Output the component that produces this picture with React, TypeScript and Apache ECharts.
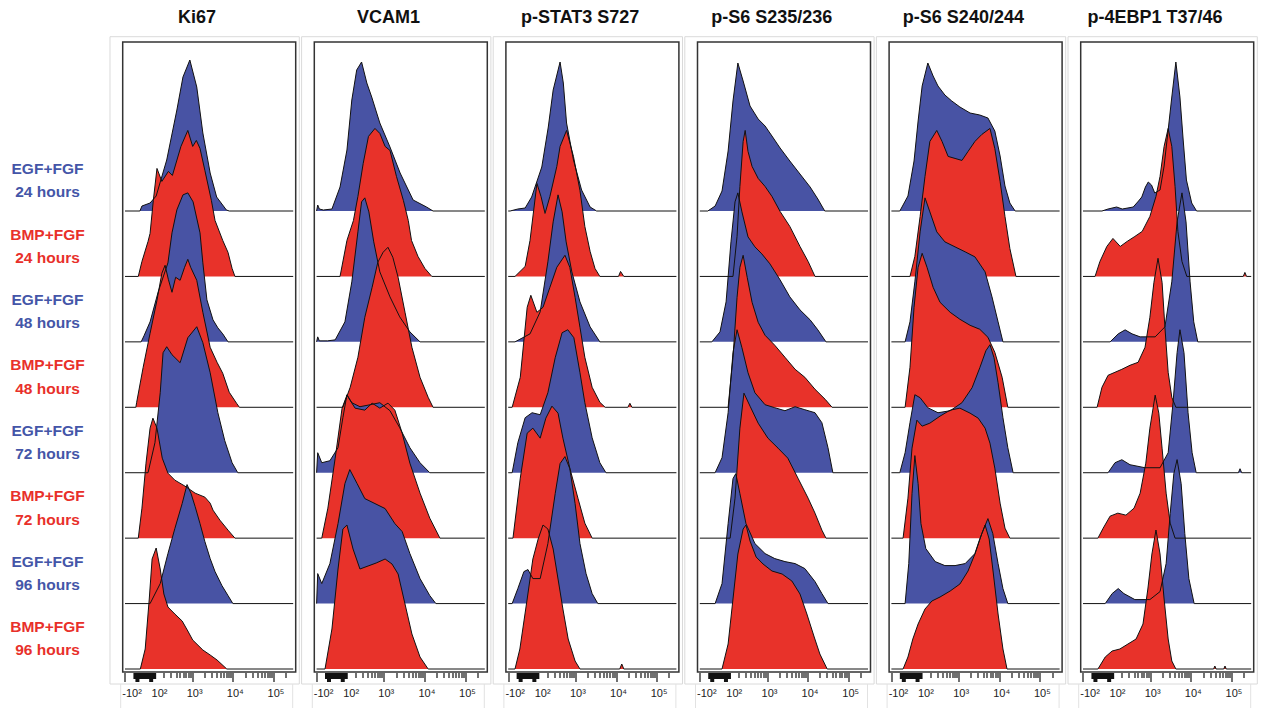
import React, { useEffect, useRef } from "react";
import * as echarts from "echarts";

// ---------- categories / labels ----------
const MARKERS = ["Ki67", "VCAM1", "p-STAT3 S727", "p-S6 S235/236", "p-S6 S240/244", "p-4EBP1 T37/46"];
const ROW_TREATMENTS = ["EGF+FGF", "BMP+FGF", "EGF+FGF", "BMP+FGF", "EGF+FGF", "BMP+FGF", "EGF+FGF", "BMP+FGF"];
const ROW_TIMES = ["24 hours", "24 hours", "48 hours", "48 hours", "72 hours", "72 hours", "96 hours", "96 hours"];
const TICK_LABELS = ["-10\u00B2", "10\u00B2", "10\u00B3", "10\u2074", "10\u2075"];
const TICK_LABEL_POS = [1.456, 2.133, 3, 4, 5];
const MAJOR_TICKS = [1.34, 3, 4, 5];

// ---------- histogram data: [log10 position, count] ----------
const KI67_ROWS = [
  [[1.7,0],[1.75,5],[1.95,8],[2.1,15],[2.36,51],[2.61,101],[2.76,134],[2.85,143],[2.93,151],[3.1,124],[3.25,78],[3.43,38],[3.59,14],[3.83,1],[3.9,0]],
  [[1.66,0],[1.75,15],[1.9,35],[1.95,43],[2.03,76],[2.12,108],[2.24,95],[2.4,105],[2.5,101],[2.71,130],[2.88,146],[3.0,130],[3.09,136],[3.18,128],[3.3,106],[3.46,76],[3.55,56],[3.74,36],[3.87,24],[3.97,8],[4.04,0]],
  [[1.73,0],[1.8,6],[1.95,20],[2.15,50],[2.39,79],[2.49,109],[2.61,132],[2.76,147],[2.88,149],[3.01,140],[3.18,109],[3.25,79],[3.35,42],[3.5,22],[3.62,14],[3.74,8],[3.87,0]],
  [[1.6,0],[1.62,5],[1.78,40],[1.95,74],[2.12,107],[2.24,134],[2.32,142],[2.4,128],[2.49,115],[2.58,130],[2.69,127],[2.8,140],[2.88,148],[2.95,140],[3.1,127],[3.25,95],[3.43,60],[3.6,45],[3.74,34],[3.9,15],[4.08,4],[4.15,0]],
  [[1.9,0],[2.07,30],[2.2,80],[2.27,120],[2.36,126],[2.49,118],[2.69,110],[2.88,135],[3.1,146],[3.25,130],[3.43,100],[3.62,60],[3.79,32],[3.97,10],[4.11,0]],
  [[1.66,0],[1.75,30],[1.85,75],[1.95,110],[2.02,120],[2.12,110],[2.25,80],[2.39,65],[2.56,58],[2.81,52],[3.06,45],[3.3,41],[3.43,35],[3.5,28],[3.67,18],[3.87,8],[4.04,0]],
  [[1.95,0],[2.2,20],[2.39,50],[2.56,75],[2.74,100],[2.86,119],[2.96,110],[3.06,97],[3.18,80],[3.3,62],[3.43,45],[3.55,32],[3.72,18],[3.87,8],[3.99,0]],
  [[1.71,0],[1.83,20],[1.93,70],[2.0,110],[2.1,121],[2.2,100],[2.29,75],[2.39,62],[2.56,55],[2.74,48],[2.88,38],[3.0,29],[3.25,19],[3.43,14],[3.6,9],[3.84,0]],
];

const VCAM1_ROWS = [
  [[1.34,0],[1.36,6],[1.4,2],[1.5,1],[1.71,2],[1.91,24],[2.08,61],[2.2,111],[2.32,141],[2.44,149],[2.57,128],[2.69,114],[2.89,88],[3.14,64],[3.39,38],[3.71,11],[4.04,4],[4.2,0]],
  [[1.91,0],[2.08,36],[2.24,56],[2.35,80],[2.48,113],[2.61,140],[2.77,148],[2.89,143],[3.02,130],[3.14,126],[3.3,100],[3.47,76],[3.59,56],[3.67,36],[3.83,20],[4.0,8],[4.17,0]],
  [[1.34,0],[1.36,5],[1.4,1],[1.6,1],[1.79,2],[2.03,20],[2.2,60],[2.35,110],[2.44,140],[2.52,144],[2.62,130],[2.74,100],[2.89,70],[3.14,45],[3.38,25],[3.63,10],[3.88,0]],
  [[1.98,0],[2.16,20],[2.35,50],[2.52,90],[2.7,120],[2.84,145],[2.97,155],[3.09,160],[3.21,150],[3.34,130],[3.51,95],[3.68,60],[3.88,30],[4.08,10],[4.2,0]],
  [[1.34,0],[1.36,20],[1.46,10],[1.66,12],[1.86,25],[1.98,55],[2.08,78],[2.2,70],[2.4,66],[2.65,68],[2.89,70],[3.14,62],[3.38,45],[3.63,25],[3.88,10],[4.12,0]],
  [[1.46,0],[1.61,30],[1.79,80],[1.96,130],[2.08,143],[2.28,130],[2.52,128],[2.7,135],[2.89,130],[3.09,135],[3.26,128],[3.44,105],[3.63,75],[3.88,45],[4.12,20],[4.37,0]],
  [[1.34,0],[1.36,30],[1.46,20],[1.66,40],[1.86,80],[2.03,120],[2.15,134],[2.33,120],[2.52,105],[2.77,100],[3.02,95],[3.26,80],[3.44,72],[3.63,50],[3.88,25],[4.12,8],[4.27,0]],
  [[1.54,0],[1.71,40],[1.86,100],[1.98,140],[2.08,144],[2.23,120],[2.4,100],[2.6,103],[2.8,106],[3.02,110],[3.19,105],[3.34,95],[3.51,65],[3.68,35],[3.88,12],[4.08,0]],
];

const PSTAT3_ROWS = [
  [[1.38,0],[1.57,2],[1.75,3],[1.91,14],[2.16,44],[2.32,84],[2.44,121],[2.61,149],[2.69,128],[2.77,88],[2.94,51],[3.14,21],[3.35,4],[3.51,0]],
  [[1.5,0],[1.75,10],[1.87,36],[2.04,93],[2.14,80],[2.24,63],[2.36,80],[2.53,110],[2.61,130],[2.77,146],[2.94,120],[3.1,86],[3.22,50],[3.35,25],[3.47,8],[3.59,0],[4.05,0],[4.1,5],[4.18,0]],
  [[1.5,0],[1.87,8],[2.12,30],[2.31,80],[2.44,120],[2.56,147],[2.66,130],[2.76,100],[2.9,70],[3.1,40],[3.35,15],[3.59,0]],
  [[1.43,0],[1.63,30],[1.8,100],[1.89,112],[2.04,95],[2.19,100],[2.36,120],[2.53,140],[2.73,152],[2.85,140],[2.98,110],[3.1,80],[3.22,50],[3.4,20],[3.59,5],[3.72,0],[4.28,0],[4.33,4],[4.38,0]],
  [[1.43,0],[1.57,30],[1.75,55],[1.92,60],[2.12,58],[2.31,80],[2.49,115],[2.66,140],[2.8,143],[2.95,135],[3.1,100],[3.22,70],[3.4,35],[3.59,10],[3.74,0]],
  [[1.45,0],[1.63,60],[1.8,105],[1.94,110],[2.12,100],[2.26,120],[2.41,132],[2.56,125],[2.68,100],[2.85,70],[3.05,40],[3.22,15],[3.4,0]],
  [[1.43,0],[1.57,15],[1.72,32],[1.82,34],[1.94,25],[2.12,25],[2.31,60],[2.49,110],[2.61,140],[2.73,147],[2.85,135],[2.98,100],[3.1,60],[3.25,30],[3.4,10],[3.54,0]],
  [[1.5,0],[1.62,20],[1.8,70],[1.94,110],[2.07,130],[2.19,144],[2.31,140],[2.44,120],[2.56,90],[2.68,60],[2.81,30],[2.98,8],[3.1,0],[4.08,0],[4.13,5],[4.18,0]],
];

const PS6A_ROWS = [
  [[1.53,0],[1.71,5],[1.88,20],[2.03,60],[2.15,110],[2.27,148],[2.4,130],[2.57,105],[2.77,92],[2.94,85],[3.11,75],[3.31,63],[3.55,50],[3.8,37],[4.05,24],[4.24,12],[4.41,0]],
  [[2.15,0],[2.25,40],[2.32,90],[2.4,135],[2.45,146],[2.52,125],[2.62,110],[2.77,98],[2.94,90],[3.11,80],[3.31,65],[3.55,50],[3.8,30],[4.0,15],[4.17,0]],
  [[1.63,0],[1.83,10],[1.98,40],[2.1,100],[2.2,140],[2.27,149],[2.37,130],[2.52,105],[2.69,95],[2.86,88],[3.06,78],[3.31,62],[3.55,45],[3.8,32],[4.05,22],[4.24,12],[4.44,0]],
  [[2.03,0],[2.15,50],[2.25,110],[2.32,140],[2.4,152],[2.5,130],[2.62,105],[2.77,85],[2.94,72],[3.18,62],[3.43,50],[3.68,38],[3.92,30],[4.17,18],[4.42,8],[4.59,0]],
  [[1.71,0],[1.88,15],[2.03,60],[2.15,120],[2.25,143],[2.37,125],[2.52,100],[2.69,80],[2.94,68],[3.18,65],[3.43,62],[3.68,66],[3.92,63],[4.17,60],[4.34,50],[4.49,25],[4.61,0]],
  [[2.08,0],[2.2,40],[2.32,110],[2.42,145],[2.57,132],[2.77,115],[3.01,100],[3.26,90],[3.5,80],[3.75,60],[4.0,40],[4.17,25],[4.34,8],[4.44,0]],
  [[1.71,0],[1.88,20],[2.03,80],[2.15,125],[2.22,130],[2.32,110],[2.47,80],[2.69,60],[2.94,50],[3.18,45],[3.43,42],[3.68,40],[3.92,35],[4.17,22],[4.34,10],[4.49,0]],
  [[1.88,0],[2.03,25],[2.15,70],[2.27,115],[2.4,140],[2.47,144],[2.57,128],[2.72,112],[2.89,105],[3.11,98],[3.36,95],[3.6,88],[3.8,75],[3.97,55],[4.15,32],[4.29,15],[4.47,0]],
];

const PS6B_ROWS = [
  [[1.54,0],[1.74,15],[1.89,50],[1.99,90],[2.09,125],[2.23,148],[2.36,135],[2.48,125],[2.65,116],[2.82,110],[3.02,104],[3.27,98],[3.51,96],[3.71,93],[3.88,80],[4.01,55],[4.13,25],[4.25,8],[4.38,0]],
  [[1.79,0],[1.91,20],[2.04,60],[2.16,100],[2.28,135],[2.45,146],[2.58,135],[2.73,120],[2.9,118],[3.07,116],[3.22,125],[3.39,135],[3.56,142],[3.76,148],[3.88,128],[4.01,95],[4.13,60],[4.25,28],[4.4,0]],
  [[1.67,0],[1.79,20],[1.91,60],[2.04,110],[2.16,144],[2.28,130],[2.45,110],[2.65,100],[2.9,95],[3.15,90],[3.39,85],[3.64,70],[3.81,45],[3.96,20],[4.08,0]],
  [[1.67,0],[1.79,40],[1.89,100],[1.99,140],[2.09,154],[2.21,140],[2.36,120],[2.53,105],[2.78,95],[3.02,88],[3.27,82],[3.51,78],[3.71,70],[3.88,55],[4.06,30],[4.2,0]],
  [[1.54,0],[1.67,20],[1.79,50],[1.91,78],[2.04,75],[2.23,65],[2.48,60],[2.78,62],[3.07,70],[3.32,85],[3.51,105],[3.66,122],[3.76,128],[3.86,115],[3.96,90],[4.08,55],[4.2,25],[4.33,0]],
  [[1.62,0],[1.74,40],[1.84,90],[1.96,118],[2.09,112],[2.28,115],[2.53,122],[2.78,128],[3.02,130],[3.27,125],[3.47,120],[3.64,110],[3.76,95],[3.88,70],[4.01,35],[4.13,10],[4.25,0]],
  [[1.67,0],[1.76,40],[1.84,110],[1.91,148],[1.99,120],[2.06,80],[2.18,55],[2.41,42],[2.65,38],[2.9,38],[3.15,40],[3.39,50],[3.56,70],[3.71,85],[3.83,70],[3.96,40],[4.08,15],[4.2,0]],
  [[1.62,0],[1.74,12],[1.86,30],[1.99,45],[2.16,60],[2.33,68],[2.53,72],[2.78,78],[3.02,85],[3.22,98],[3.39,115],[3.51,130],[3.64,144],[3.74,130],[3.83,100],[3.96,55],[4.08,20],[4.18,0]],
];

const P4EBP1_ROWS = [
  [[1.8,0],[1.95,2],[2.16,4],[2.3,2],[2.57,4],[2.7,10],[2.78,14],[2.87,24],[2.94,29],[3.02,26],[3.1,18],[3.23,21],[3.33,45],[3.43,81],[3.52,114],[3.62,149],[3.72,114],[3.8,71],[3.88,31],[4.01,8],[4.13,0]],
  [[1.63,0],[1.75,15],[1.92,30],[2.07,38],[2.25,30],[2.42,35],[2.61,40],[2.79,45],[2.98,60],[3.13,80],[3.23,100],[3.33,130],[3.43,148],[3.52,130],[3.6,90],[3.67,45],[3.77,15],[3.89,0],[5.28,0],[5.32,4],[5.36,0]],
  [[2.0,0],[2.2,8],[2.37,12],[2.54,8],[2.74,5],[3.11,5],[3.35,15],[3.52,60],[3.65,120],[3.77,149],[3.87,120],[3.97,60],[4.06,20],[4.16,0]],
  [[1.68,0],[1.8,20],[1.95,32],[2.12,35],[2.29,38],[2.49,42],[2.69,45],[2.86,60],[2.98,90],[3.08,125],[3.18,149],[3.28,125],[3.35,80],[3.43,35],[3.52,10],[3.62,0]],
  [[1.95,0],[2.12,10],[2.29,13],[2.49,8],[2.86,5],[3.23,5],[3.43,20],[3.55,70],[3.65,120],[3.72,143],[3.82,120],[3.92,60],[4.02,20],[4.12,0],[5.16,0],[5.2,4],[5.24,0]],
  [[1.7,0],[1.83,10],[2.0,22],[2.19,25],[2.39,23],[2.59,30],[2.74,45],[2.88,75],[2.98,110],[3.11,143],[3.2,125],[3.28,90],[3.38,45],[3.48,15],[3.6,0]],
  [[1.88,0],[2.05,10],[2.2,15],[2.34,10],[2.61,4],[2.98,4],[3.23,12],[3.38,40],[3.48,90],[3.57,130],[3.65,144],[3.75,120],[3.84,70],[3.94,25],[4.07,0]],
  [[1.7,0],[1.88,12],[2.05,18],[2.24,20],[2.44,25],[2.64,30],[2.81,45],[2.93,80],[3.03,115],[3.13,139],[3.23,115],[3.33,70],[3.43,30],[3.52,8],[3.62,0],[4.55,0],[4.58,3],[4.61,0],[4.8,0],[4.83,3],[4.86,0]],
];

const PANELS = [KI67_ROWS, VCAM1_ROWS, PSTAT3_ROWS, PS6A_ROWS, PS6B_ROWS, P4EBP1_ROWS];

// ---------- styling / layout ----------
const BLUE_FILL = "#4853a4";
const RED_FILL = "#e8322a";
const BLUE_TEXT = "#4456a8";
const RED_TEXT = "#e8302a";
const BOX_LEFT0 = 122.7;
const PITCH = 191.6;
const BOX_W = 173;
const BOX_TOP = 42;
const BOX_BOTTOM = 672;
const T3_OFF = 70; // px from box left to 10^3
const DECADE = 40.6; // px per decade
const BASE0 = 211;
const ROW_STEP = 65.43;
const ROW_H = 160;
const INSET = 2.3;

const FRAME_MIN = 3 - T3_OFF / DECADE;
const FRAME_MAX = FRAME_MIN + BOX_W / DECADE;
const ROW_MIN = 3 - (T3_OFF - INSET) / DECADE;
const ROW_W = BOX_W - 2 * INSET - 0.2;
const ROW_MAX = ROW_MIN + ROW_W / DECADE;

// tick marks: [position, tick length in px]
function tickData(): number[][] {
  const out: number[][] = MAJOR_TICKS.map((v) => [v, 9]);
  for (let k = 2; k <= 4; k++) for (let m = 2; m <= 9; m++) out.push([+(k + Math.log10(m)).toFixed(4), 5]);
  out.push([+(5 + Math.log10(2)).toFixed(4), 5]);
  return out;
}

function buildOption() {
  const grid: any[] = [];
  const xAxis: any[] = [];
  const yAxis: any[] = [];
  const series: any[] = [];
  const graphic: any[] = [];
  const fontFam = '"Liberation Sans", Arial, sans-serif';
  const ticks = tickData();

  PANELS.forEach((rows, p) => {
    const boxLeft = BOX_LEFT0 + PITCH * p;
    graphic.push({
      type: "rect", silent: true, z: -1,
      shape: { x: boxLeft - 12.7, y: 36.7, width: 189.3, height: 647.3 },
      style: { fill: "none", stroke: "#dadada", lineWidth: 1 },
    });
    graphic.push({ type: "line", silent: true, shape: { x1: boxLeft - 2, y1: 684, x2: boxLeft - 2, y2: 708 }, style: { stroke: "#e2e2e2", lineWidth: 1 } });
    graphic.push({ type: "line", silent: true, shape: { x1: boxLeft + 170, y1: 684, x2: boxLeft + 170, y2: 708 }, style: { stroke: "#e2e2e2", lineWidth: 1 } });
    graphic.push({
      type: "text", silent: true,
      style: { text: MARKERS[p], x: 197 + PITCH * p, y: 17, textAlign: "center", textVerticalAlign: "middle", fill: "#111", font: 'bold 18px "Liberation Sans", Arial, sans-serif' },
    });

    // frame grid: box border, tick labels
    const fg = grid.length;
    grid.push({
      left: boxLeft, top: BOX_TOP, width: BOX_W, height: BOX_BOTTOM - BOX_TOP,
      show: true, borderColor: "#333", borderWidth: 1.5, backgroundColor: "transparent",
      containLabel: false, outerBoundsMode: "none",
    });
    yAxis.push({ type: "value", gridIndex: fg, min: 0, max: 1, show: false });
    xAxis.push({
      type: "value", gridIndex: fg, min: FRAME_MIN, max: FRAME_MAX, position: "bottom", offset: 1,
      axisLine: { show: false }, splitLine: { show: false }, axisTick: { show: false },
      axisLabel: {
        show: true, customValues: TICK_LABEL_POS, margin: 14, color: "#222", fontSize: 11, fontFamily: fontFam, padding: [0, 0, 0, 4],
        formatter: (v: number) => { const i = TICK_LABEL_POS.findIndex((q) => Math.abs(q - v) < 1e-6); return i >= 0 ? TICK_LABELS[i] : ""; },
      },
    });
    const fx = xAxis.length - 1;
    const fy = yAxis.length - 1;
    // individual tick marks
    series.push({
      type: "custom", xAxisIndex: fx, yAxisIndex: fy, silent: true, clip: false, z: 5,
      data: ticks,
      renderItem: (_params: any, api: any) => {
        const pt = api.coord([api.value(0), 0]);
        const len = api.value(1);
        const x = Math.round(pt[0]);
        const y0 = Math.round(pt[1]) + 1;
        return {
          type: "rect",
          shape: { x: x - 0.6, y: y0, width: 1.2, height: len },
          style: { fill: "#111" },
        };
      },
    });
    // the dense linear region (negative..10^2) shown as a solid tick band
    series.push({
      type: "custom", xAxisIndex: fx, yAxisIndex: fy, silent: true, clip: false, z: 5,
      data: [[1.54, 2.1]],
      renderItem: (_params: any, api: any) => {
        const a = api.coord([api.value(0), 0]);
        const b = api.coord([api.value(1), 0]);
        const y0 = Math.round(a[1]) + 1;
        return {
          type: "group",
          children: [
            { type: "rect", shape: { x: a[0], y: y0, width: b[0] - a[0], height: 6 }, style: { fill: "#111" } },
            { type: "rect", shape: { x: a[0] + 2, y: y0 + 6, width: 4, height: 3 }, style: { fill: "#111" } },
            { type: "rect", shape: { x: b[0] - 7, y: y0 + 6, width: 4, height: 3 }, style: { fill: "#111" } },
          ],
        };
      },
    });

    rows.forEach((curve, r) => {
      const baseline = BASE0 + ROW_STEP * r;
      const gi = grid.length;
      grid.push({ left: boxLeft + INSET, top: baseline - ROW_H, width: ROW_W, height: ROW_H, containLabel: false, outerBoundsMode: "none" });
      xAxis.push({ type: "value", gridIndex: gi, min: ROW_MIN, max: ROW_MAX, show: false });
      yAxis.push({ type: "value", gridIndex: gi, min: 0, max: ROW_H, show: false });
      const isBlue = r % 2 === 0;
      series.push({
        type: "line", xAxisIndex: xAxis.length - 1, yAxisIndex: yAxis.length - 1,
        data: [[ROW_MIN, 0], ...curve, [ROW_MAX, 0]],
        symbol: "none", silent: true, clip: false,
        lineStyle: { color: "#111", width: 1 },
        areaStyle: { color: isBlue ? BLUE_FILL : RED_FILL, opacity: 1 },
      });
    });
  });

  ROW_TREATMENTS.forEach((t, r) => {
    const color = r % 2 === 0 ? BLUE_TEXT : RED_TEXT;
    const y1 = 168.6 + ROW_STEP * r;
    graphic.push({ type: "text", silent: true, style: { text: t, x: 47.5, y: y1, textAlign: "center", textVerticalAlign: "middle", fill: color, font: 'bold 15.5px "Liberation Sans", Arial, sans-serif' } });
    graphic.push({ type: "text", silent: true, style: { text: ROW_TIMES[r], x: 47.5, y: y1 + 23.3, textAlign: "center", textVerticalAlign: "middle", fill: color, font: 'bold 15.5px "Liberation Sans", Arial, sans-serif' } });
  });

  return { animation: false, backgroundColor: "#ffffff", grid, xAxis, yAxis, series, graphic };
}

export default function App() {
  const ref = useRef<HTMLDivElement>(null);
  useEffect(() => {
    if (!ref.current) return;
    const chart = echarts.init(ref.current, undefined, { renderer: "svg" });
    chart.setOption(buildOption() as any);
    return () => chart.dispose();
  }, []);
  return <div ref={ref} style={{ position: "fixed", left: 0, top: 0, width: 1265, height: 708, background: "#fff" }} />;
}
